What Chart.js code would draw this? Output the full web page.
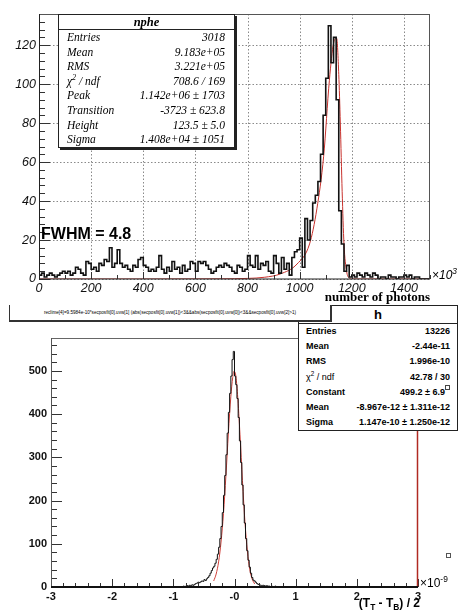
<!DOCTYPE html>
<html>
<head>
<meta charset="utf-8">
<script src="https://cdn.jsdelivr.net/npm/chart.js@4.4.1/dist/chart.umd.min.js"></script>
<style>
  body { margin: 0; background: #fff; width: 459px; height: 612px; position: relative; overflow: hidden; font-family: "Liberation Sans", Arial, sans-serif; }
  canvas { position: absolute; left: 0; }
  #topChart { top: 0; }
  #botChart { top: 300px; }
  .abs { position: absolute; white-space: nowrap; }
  .stats1 { position: absolute; left: 58px; top: 14px; width: 175px; height: 132px; background: #fff; border: 1px solid #222; box-shadow: 2px 2px 0 #222; font-family: "Liberation Serif", "Times New Roman", serif; font-style: italic; font-size: 11.5px; }
  .stats1 .title { height: 14px; line-height: 14px; text-align: center; border-bottom: 1px solid #222; font-size: 12.5px; font-weight: bold; }
  .stats1 .row { display: flex; justify-content: space-between; height: 14.6px; line-height: 14.6px; padding: 0 9px 0 8px; }
  .stats2 { position: absolute; left: 298px; top: 305px; width: 158px; height: 124px; background: #fff; border: 1px solid #222; font-weight: bold; font-size: 9px; }
  .stats2 .title { height: 17px; line-height: 17px; text-align: center; border-bottom: 1px solid #222; font-size: 13px; }
  .stats2 .row { display: flex; justify-content: space-between; height: 15.2px; line-height: 15.2px; padding: 0 7px; }
  sup { font-size: 70%; line-height: 0; }
  sub { font-size: 70%; line-height: 0; }
</style>
</head>
<body>
<canvas id="topChart" width="459" height="300"></canvas>
<canvas id="botChart" width="459" height="312"></canvas>

<div class="stats1">
  <div class="title">nphe</div>
  <div class="row"><span>Entries</span><span>3018</span></div>
  <div class="row"><span>Mean</span><span>9.183e+05</span></div>
  <div class="row"><span>RMS</span><span>3.221e+05</span></div>
  <div class="row"><span>&chi;<sup>2</sup> / ndf</span><span>708.6 / 169</span></div>
  <div class="row"><span>Peak</span><span>1.142e+06 &plusmn; 1703</span></div>
  <div class="row"><span>Transition</span><span>-3723 &plusmn; 623.8</span></div>
  <div class="row"><span>Height</span><span>123.5 &plusmn; 5.0</span></div>
  <div class="row"><span>Sigma</span><span>1.408e+04 &plusmn; 1051</span></div>
</div>

<div class="abs" style="left:41px;top:225px;font-weight:bold;font-size:16px;">FWHM = 4.8</div>
<div class="abs" style="left:432px;top:268px;font-style:italic;font-size:12px;">&times;10<sup>3</sup></div>

<div class="stats2">
  <div class="title">h</div>
  <div class="row"><span>Entries</span><span>13226</span></div>
  <div class="row"><span>Mean</span><span>-2.44e-11</span></div>
  <div class="row"><span>RMS</span><span>1.996e-10</span></div>
  <div class="row"><span style="font-weight:normal">&chi;<sup>2</sup> / ndf</span><span>42.78 / 30</span></div>
  <div class="row"><span>Constant</span><span>499.2 &plusmn; 6.9<sup style="display:inline-block;width:3px;height:3px;border:1px solid #444;vertical-align:top;font-size:1px"></sup></span></div>
  <div class="row"><span>Mean</span><span>-8.967e-12 &plusmn; 1.311e-12</span></div>
  <div class="row"><span>Sigma</span><span>1.147e-10 &plusmn; 1.250e-12</span></div>
</div>

<div class="abs" style="left:9px;top:305px;width:320px;height:15px;border-left:1px solid #333;border-right:2px solid #333;border-bottom:2px solid #333;background:#fff;font-size:4.6px;line-height:15px;text-align:center;">reclime[4]=9.5984e-10*secposfit[0].uvw[1] (abs(secposfit[0].uvw[1])&lt;3&amp;&amp;abs(secposfit[0].uvw[0])&lt;3&amp;&amp;secposfit[0].uvw[2]&gt;1)</div>
<div class="abs" style="right:29px;top:289px;font-family:'Liberation Serif',serif;font-weight:bold;font-size:13px;">number of photons</div>

<div class="abs" style="left:446px;top:553px;width:3px;height:3px;border:1px solid #555;"></div>
<div class="abs" style="left:420px;top:576px;font-size:12px;">&times;10<sup>-9</sup></div>
<div class="abs" style="right:39px;top:596px;font-weight:bold;font-size:12px;">(T<sub>T</sub> - T<sub>B</sub>) / 2</div>

<script>
// top histogram: number of photons (x10^3), 10 per bin
const topBinStart = 0;
const topBinWidth = 10;
const topCounts = [
  10, 2, 3, 1, 2, 3, 2, 1, 2, 3, 4, 3, 4, 2, 3, 6, 5, 3, 2, 9,
  8, 5, 6, 4, 8, 7, 10, 9, 16, 6, 8, 15, 8, 6, 7, 5, 4, 7, 6, 10,
  11, 7, 6, 4, 5, 4, 6, 12, 5, 3, 6, 4, 9, 5, 6, 3, 7, 4, 5, 9,
  8, 4, 9, 8, 9, 7, 5, 3, 4, 6, 7, 6, 8, 7, 6, 4, 3, 7, 6, 4,
  5, 12, 7, 6, 12, 5, 8, 7, 9, 4, 3, 12, 8, 3, 11, 5, 8, 2, 11, 14,
  15, 21, 6, 31, 20, 30, 39, 43, 50, 64, 84, 103, 130, 111, 124, 92, 35, 18, 4, 7,
  1, 2, 1, 3, 2, 1, 3, 2, 1, 3, 2, 0, 1, 1, 0, 2, 1, 1, 0, 1, 1, 2, 1, 2, 0, 1, 1, 0, 0, 0
];
const topFitX = [0, 200, 400, 600, 700, 800, 866, 926, 990, 1038, 1066, 1092, 1114, 1130, 1142, 1150, 1156, 1163, 1170, 1180, 1190, 1200, 1300, 1500];
const topFitY = [0, 0, 0, 0.05, 0.1, 0.3, 0.9, 2.6, 7.7, 18, 36, 63, 102, 121, 123.5, 105, 80, 45, 18, 4, 0.5, 0, 0, 0];

// bottom histogram: (T_T - T_B)/2 (x10^-9), 0.02 per bin
const botBinStart = -1.0;
const botBinWidth = 0.02;
const botCounts = [
  0, 1, 0, 0, 1, 0, 1, 1, 0, 2,
  1, 2, 3, 2, 4, 3, 5, 4, 6, 8,
  9, 11, 10, 12, 14, 13, 17, 15, 19, 22,
  26, 32, 38, 44, 48, 55, 64, 76, 92, 112,
  140, 172, 212, 258, 306, 356, 404, 448, 488, 526,
  545, 488, 468, 436, 392, 338, 288, 236, 190, 148,
  112, 84, 62, 46, 32, 22, 16, 14, 11, 8,
  6, 5, 4, 3, 4, 3, 2, 3, 2, 2,
  1, 2, 1, 1, 2, 1, 1, 0, 1, 1,
  0, 1, 0, 0, 1
];
const botFitX = [-0.34, -0.30, -0.26, -0.22, -0.18, -0.14, -0.10, -0.06, -0.03, -0.01, 0.02, 0.05, 0.09, 0.13, 0.17, 0.21, 0.25, 0.29, 0.33];
const botFitY = [14, 30, 58, 104, 170, 258, 356, 440, 484, 499, 490, 445, 352, 246, 152, 84, 40, 18, 7];

function histPoints(start, width, counts, lo, hi) {
  const pts = [];
  if (lo < start) pts.push({ x: lo, y: 0 });
  counts.forEach((c, i) => pts.push({ x: start + i * width, y: c }));
  pts.push({ x: start + counts.length * width, y: 0 });
  if (hi > start + counts.length * width) pts.push({ x: hi, y: 0 });
  return pts;
}

function zip(xs, ys) {
  return xs.map((x, i) => ({ x: x, y: ys[i] }));
}

function eachStep(min, max, step, fn) {
  const n0 = Math.ceil(min / step - 1e-6), n1 = Math.floor(max / step + 1e-6);
  for (let n = n0; n <= n1; n++) fn(n * step);
}

// ROOT-like frame: dotted grid, inward ticks, frame lines
const rootFrame = {
  id: 'rootFrame',
  beforeDatasetsDraw(chart, args, o) {
    if (!o.grid) return;
    const ctx = chart.ctx, a = chart.chartArea, sx = chart.scales.x, sy = chart.scales.y;
    ctx.save();
    ctx.strokeStyle = '#8a8a8a';
    ctx.lineWidth = 1;
    ctx.setLineDash([1.5, 2]);
    eachStep(sx.min, sx.max, o.xMajor, v => {
      const p = Math.round(sx.getPixelForValue(v)) + 0.5;
      ctx.beginPath(); ctx.moveTo(p, a.top); ctx.lineTo(p, a.bottom); ctx.stroke();
    });
    eachStep(sy.min, sy.max, o.yMajor, v => {
      const p = Math.round(sy.getPixelForValue(v)) + 0.5;
      ctx.beginPath(); ctx.moveTo(a.left, p); ctx.lineTo(a.right, p); ctx.stroke();
    });
    ctx.restore();
  },
  afterDatasetsDraw(chart, args, o) {
    const ctx = chart.ctx, a = chart.chartArea, sx = chart.scales.x, sy = chart.scales.y;
    ctx.save();
    ctx.strokeStyle = '#333';
    ctx.lineWidth = 1;
    eachStep(sx.min, sx.max, o.xMinor, v => {
      const major = Math.abs(v / o.xMajor - Math.round(v / o.xMajor)) < 1e-6;
      const p = Math.round(sx.getPixelForValue(v)) + 0.5;
      ctx.beginPath(); ctx.moveTo(p, a.bottom); ctx.lineTo(p, a.bottom - (major ? o.xMajorLen : o.xMinorLen)); ctx.stroke();
    });
    eachStep(sy.min, sy.max, o.yMinor, v => {
      const major = Math.abs(v / o.yMajor - Math.round(v / o.yMajor)) < 1e-6;
      const p = Math.round(sy.getPixelForValue(v)) + 0.5;
      ctx.beginPath(); ctx.moveTo(a.left, p); ctx.lineTo(a.left + (major ? o.yMajorLen : o.yMinorLen), p); ctx.stroke();
    });
    const f = o.frame;
    const line = (x1, y1, x2, y2, c, w) => {
      ctx.strokeStyle = c; ctx.lineWidth = w;
      ctx.beginPath(); ctx.moveTo(x1, y1); ctx.lineTo(x2, y2); ctx.stroke();
    };
    line(a.left, a.top + 0.5, a.right, a.top + 0.5, f.top, 1);
    line(a.right - 0.5, a.top, a.right - 0.5, a.bottom, f.right, f.rightWidth || 1);
    line(a.left + 0.5, a.top, a.left + 0.5, a.bottom, f.left, 1);
    line(a.left, a.bottom, a.right, a.bottom, f.bottom, f.bottomWidth || 1);
    ctx.restore();
  }
};

function fixedScale(w) {
  return function (scale) { if (scale.isHorizontal()) scale.height = w; else scale.width = w; };
}

new Chart(document.getElementById('topChart'), {
  type: 'scatter',
  data: {
    datasets: [{
      data: histPoints(topBinStart, topBinWidth, topCounts, 0, 1500),
      showLine: true,
      stepped: 'after',
      borderColor: '#111',
      borderWidth: 1.6,
      pointRadius: 0
    }, {
      data: zip(topFitX, topFitY),
      showLine: true,
      cubicInterpolationMode: 'monotone',
      borderColor: '#c8322d',
      borderWidth: 1,
      pointRadius: 0
    }]
  },
  options: {
    responsive: false,
    animation: false,
    layout: { padding: { left: 0, top: 14, right: 29, bottom: 0 } },
    plugins: {
      legend: { display: false },
      tooltip: { enabled: false },
      rootFrame: {
        grid: true, xMajor: 200, xMinor: 100, yMajor: 20, yMinor: 4,
        xMajorLen: 7, xMinorLen: 4, yMajorLen: 11, yMinorLen: 6,
        frame: { top: '#555', right: '#555', left: '#222', bottom: '#222' }
      }
    },
    scales: {
      x: {
        type: 'linear', min: 0, max: 1500,
        afterFit: fixedScale(21),
        grid: { display: false, drawTicks: false },
        border: { display: false },
        ticks: { stepSize: 200, includeBounds: false, padding: 2, color: '#111', callback: v => String(v), font: { family: 'Liberation Sans', size: 12.5, style: 'italic' } }
      },
      y: {
        min: 0, max: 136,
        afterFit: fixedScale(39),
        grid: { display: false, drawTicks: false },
        border: { display: false },
        ticks: { stepSize: 20, includeBounds: false, padding: 3, color: '#111', callback: v => String(v), font: { family: 'Liberation Sans', size: 12.5, style: 'italic' } }
      }
    }
  },
  plugins: [rootFrame]
});

new Chart(document.getElementById('botChart'), {
  type: 'scatter',
  data: {
    datasets: [{
      data: histPoints(botBinStart, botBinWidth, botCounts, -3, 3),
      showLine: true,
      stepped: 'after',
      borderColor: '#111',
      borderWidth: 1,
      pointRadius: 0
    }, {
      data: zip(botFitX, botFitY),
      showLine: true,
      cubicInterpolationMode: 'monotone',
      borderColor: '#d0403a',
      borderWidth: 1,
      pointRadius: 0
    }]
  },
  options: {
    responsive: false,
    animation: false,
    layout: { padding: { left: 0, top: 38, right: 41, bottom: 0 } },
    plugins: {
      legend: { display: false },
      tooltip: { enabled: false },
      rootFrame: {
        grid: false, xMajor: 1, xMinor: 0.2, yMajor: 100, yMinor: 20,
        xMajorLen: 8, xMinorLen: 4, yMajorLen: 11, yMinorLen: 6,
        frame: { top: '#666', right: '#b02a22', rightWidth: 1.5, left: '#555', bottom: '#111', bottomWidth: 2 }
      }
    },
    scales: {
      x: {
        type: 'linear', min: -3, max: 3,
        afterFit: fixedScale(25),
        grid: { display: false, drawTicks: false },
        border: { display: false },
        ticks: { stepSize: 1, includeBounds: false, padding: 3, color: '#111', callback: v => (v === 0 ? '-0' : String(v)), font: { family: 'Liberation Sans', size: 11, weight: 'bold' } }
      },
      y: {
        min: 0, max: 576,
        afterFit: fixedScale(51),
        grid: { display: false, drawTicks: false },
        border: { display: false },
        ticks: { stepSize: 100, includeBounds: false, padding: 4, color: '#111', callback: v => String(v), font: { family: 'Liberation Sans', size: 11, weight: 'bold' } }
      }
    }
  },
  plugins: [rootFrame]
});
</script>
</body>
</html>
